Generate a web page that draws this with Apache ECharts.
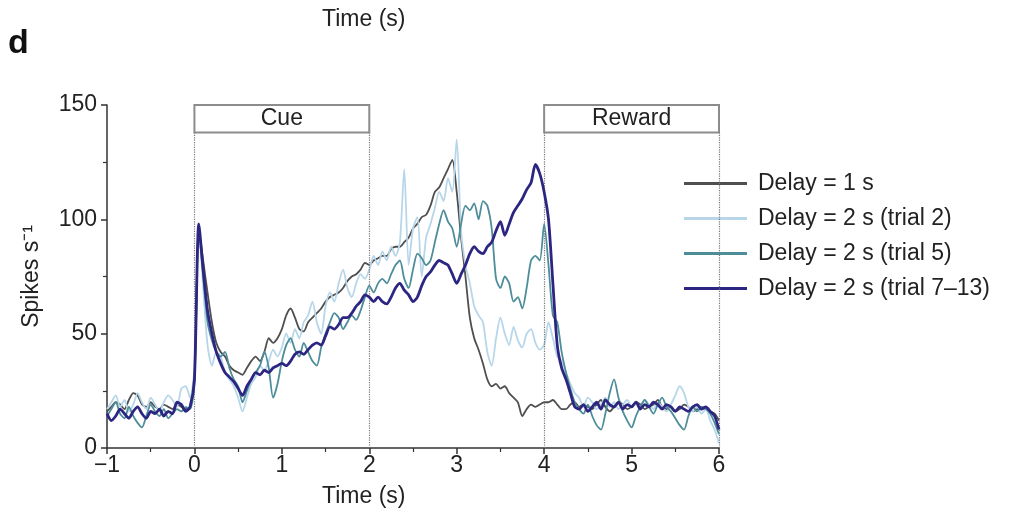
<!DOCTYPE html>
<html>
<head>
<meta charset="utf-8">
<script src="https://cdn.jsdelivr.net/npm/echarts@6/dist/echarts.min.js"></script>
<style>
  html, body { margin: 0; padding: 0; background: #fff; }
  #chart { width: 1026px; height: 520px; }
</style>
</head>
<body>
<div id="chart"></div>
<script>
// sampling grid: -1 s to 6 s, every 0.05 s
const T_START = -1;
const T_STEP = 0.05;

const delay1 = [
  16, 18, 20, 19, 17, 21, 24, 23, 19, 18, 20, 18, 17, 19, 18, 17, 19, 18, 17, 18,
  30, 96, 82, 68, 55, 46, 42, 40, 36, 34, 33, 32, 35, 38, 40, 38, 42, 48, 46, 48,
  52, 58, 61, 57, 52, 51, 55, 57, 59, 61, 64, 66, 67, 68, 70, 73, 75, 76, 78, 81,
  80, 82, 83, 84, 84, 87, 88, 88, 90, 92, 96, 98, 101, 102, 106, 112, 114, 118, 122, 126,
  112, 92, 75, 57, 48, 43, 37, 30, 27, 28, 26, 27, 24, 22, 20, 14, 17, 19, 18, 19,
  20, 20, 21, 19, 17, 17, 19, 20, 18, 19, 18, 17, 19, 21, 18, 16, 18, 20, 19, 17,
  18, 20, 19, 17, 18, 19, 21, 18, 17, 18, 16, 17, 19, 18, 16, 17, 18, 17, 16, 15, 12
];

const delay2t2 = [
  17, 20, 23, 18, 21, 16, 19, 24, 20, 17, 22, 19, 16, 20, 23, 21, 18, 26, 27, 22,
  35, 97, 70, 45, 36, 42, 40, 33, 30, 27, 22, 16, 22, 28, 31, 36, 34, 38, 43, 40,
  44, 50, 46, 52, 48, 55, 58, 64, 55, 50, 62, 68, 64, 72, 78, 70, 66, 72, 76, 74,
  78, 84, 80, 86, 82, 88, 84, 90, 122, 80, 96, 101, 75, 92, 98, 105, 112, 108, 118, 112,
  135, 95, 80, 72, 62, 58, 55, 42, 36, 48, 57, 50, 45, 53, 47, 44, 50, 52, 46, 43,
  45, 55, 48, 40, 38, 33, 28, 24, 22, 18, 22, 20, 17, 19, 22, 18, 20, 17, 19, 21,
  18, 20, 17, 21, 19, 17, 20, 18, 16, 19, 23, 27, 24, 18, 16, 18, 15, 17, 12, 8, 2
];

const delay2t5 = [
  14, 17, 20, 15, 13, 18, 14, 11, 9, 14, 19, 16, 14, 17, 13, 15, 17, 16, 18, 17,
  28, 96, 75, 55, 47, 42, 40, 42, 35, 30, 27, 20, 25, 30, 33, 36, 42, 35, 22, 28,
  38, 45, 48, 43, 40, 46, 42, 38, 36, 44, 50, 55, 59, 57, 52, 55, 58, 56, 60, 66,
  71, 68, 72, 74, 72, 76, 80, 82, 74, 70, 78, 85, 83, 80, 82, 90, 98, 104, 99, 96,
  88, 98, 106, 104, 107, 100, 108, 106, 96, 74, 70, 75, 72, 64, 66, 61, 70, 82, 84, 82,
  98, 80, 58, 55, 42, 33, 26, 20, 17, 15, 19, 14, 10, 8, 15, 24, 30, 22, 16, 12,
  9, 14, 18, 21, 18, 15, 19, 22, 18, 16, 13, 10, 8, 14, 18, 16, 18, 17, 15, 11, 6
];

const delay2t713 = [
  15, 12, 14, 17, 15, 13, 16, 18, 15, 13, 16, 15, 17, 14, 16, 15, 20, 19, 16, 18,
  30, 98, 78, 60, 50, 42, 37, 33, 31, 29, 26, 23, 27, 30, 33, 32, 34, 33, 35, 36,
  37, 36, 38, 41, 42, 41, 43, 45, 46, 45, 49, 53, 52, 54, 57, 57, 59, 62, 64, 67,
  66, 64, 66, 64, 63, 66, 70, 72, 69, 67, 64, 66, 71, 75, 77, 80, 82, 81, 80, 76,
  72, 76, 80, 85, 88, 86, 85, 88, 90, 95, 99, 93, 98, 103, 106, 109, 113, 116, 124, 120,
  112, 100, 72, 45, 35, 30, 24, 18, 17, 19, 16, 18, 20, 17, 21, 19, 18, 20, 17, 19,
  18, 20, 17, 19, 18, 20, 19, 17, 19, 18, 16, 18, 17, 16, 18, 19, 17, 18, 16, 14, 8
];

const seriesNames = [
  'Delay = 1 s',
  'Delay = 2 s (trial 2)',
  'Delay = 2 s (trial 5)',
  'Delay = 2 s (trial 7\u201313)'
];
const seriesValues = [delay1, delay2t2, delay2t5, delay2t713];
const seriesColors = ['#4f4f4f', '#b7d6e9', '#4d8d9a', '#2c2682'];
const seriesWidths = [1.8, 1.8, 1.8, 2.8];

const epochs = [
  { name: 'Cue', from: 0, to: 2 },
  { name: 'Reward', from: 4, to: 6 }
];
const boxBottom = 138;
const boxTop = 150;

const FONT = 'Liberation Sans, Arial, Helvetica, sans-serif';

function toPairs(vals) {
  return vals.map((v, i) => [+(T_START + i * T_STEP).toFixed(2), v]);
}

const chart = echarts.init(document.getElementById('chart'), null, { renderer: 'canvas' });

const series = seriesValues.map((vals, k) => ({
  name: seriesNames[k],
  type: 'line',
  data: toPairs(vals),
  showSymbol: false,
  smooth: 0.25,
  lineStyle: { color: seriesColors[k], width: seriesWidths[k] },
  itemStyle: { color: seriesColors[k] },
  z: 3 + k
}));

// boxes and dotted epoch markers on a carrier series
series.push({
  name: 'epochs',
  type: 'line',
  data: [],
  silent: true,
  markArea: {
    silent: true,
    itemStyle: { color: '#fff', borderColor: '#8c8c8c', borderWidth: 2 },
    label: { show: true, position: 'inside', color: '#222', fontSize: 23, fontFamily: FONT },
    data: epochs.map(e => [
      { name: e.name, coord: [e.from, boxBottom] },
      { coord: [e.to, boxTop] }
    ])
  },
  markLine: {
    silent: true,
    symbol: 'none',
    label: { show: false },
    lineStyle: { type: 'dotted', color: '#777', width: 1.2 },
    data: [0, 2, 4, 6].map(x => [
      { coord: [x, 0] },
      { coord: [x, boxBottom] }
    ])
  },
  z: 1
});

chart.setOption({
  animation: false,
  backgroundColor: '#fff',
  grid: { left: 107, right: 307, top: 105, bottom: 72 },
  legend: {
    orient: 'vertical',
    left: 680,
    top: 168,
    data: seriesNames,
    icon: 'rect',
    itemWidth: 63,
    itemHeight: 3,
    itemGap: 12,
    backgroundColor: '#fff',
    padding: [4, 4, 12, 4],
    textStyle: { fontSize: 23, color: '#222', fontFamily: FONT, padding: [0, 0, 0, 6] }
  },
  xAxis: {
    type: 'value',
    min: -1,
    max: 6,
    interval: 1,
    axisLine: { onZero: false, lineStyle: { color: '#333', width: 1.5 } },
    axisTick: { length: 6, lineStyle: { color: '#333', width: 1.5 } },
    minorTick: { show: true, splitNumber: 2, length: 4, lineStyle: { color: '#333', width: 1.2 } },
    splitLine: { show: false },
    axisLabel: {
      fontSize: 23, color: '#222', fontFamily: FONT, margin: 6,
      formatter: v => (v < 0 ? '\u2212' + Math.abs(v) : String(v))
    }
  },
  yAxis: {
    type: 'value',
    min: 0,
    max: 150,
    interval: 50,
    name: 'Spikes s\u207B\u00B9',
    nameLocation: 'middle',
    nameGap: 64,
    nameTextStyle: { fontSize: 23, color: '#222', fontFamily: FONT },
    axisLine: { show: true, onZero: false, lineStyle: { color: '#333', width: 1.5 } },
    axisTick: { show: true, length: 6, lineStyle: { color: '#333', width: 1.5 } },
    minorTick: { show: true, splitNumber: 2, length: 4, lineStyle: { color: '#333', width: 1.2 } },
    splitLine: { show: false },
    axisLabel: { fontSize: 23, color: '#222', fontFamily: FONT, margin: 10 }
  },
  graphic: [
    { type: 'text', left: 8, top: 27, style: { text: 'd', font: 'bold 34px ' + FONT, fill: '#111' } },
    { type: 'text', left: 322, top: 8, style: { text: 'Time (s)', font: '23px ' + FONT, fill: '#222' } },
    { type: 'text', left: 322, top: 485, style: { text: 'Time (s)', font: '23px ' + FONT, fill: '#222' } }
  ],
  series: series
});
</script>
</body>
</html>
